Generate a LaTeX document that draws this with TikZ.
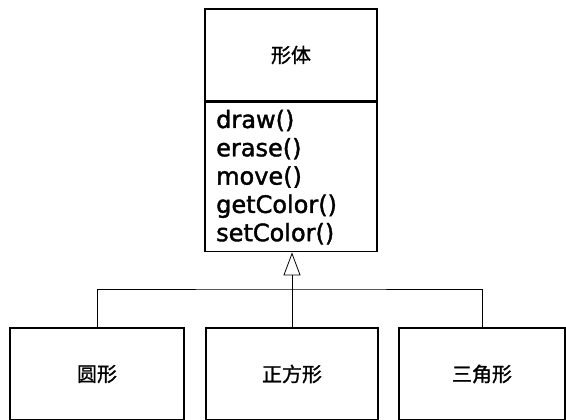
\documentclass[tikz,border=0pt]{standalone}
\usepackage{fontspec}
\usepackage{tikz}
\usetikzlibrary{arrows.meta}
\newfontfamily\cjk[FakeBold=1.2]{Noto Sans CJK SC}
\newfontfamily\opfont[FakeBold=1.6]{DejaVu Sans}

\tikzset{
	classbox/.style={draw=black, line width=1.6pt, fill=white, inner sep=0pt,
		font=\cjk\fontsize{20}{24}\selectfont},
	optext/.style={anchor=base west, inner sep=0pt, font=\opfont\fontsize{24}{28}\selectfont},
	link/.style={draw=black, line width=0.8pt}
}

\begin{document}
\begin{tikzpicture}[x=1pt, y=-1pt]
	\useasboundingbox (0,0) rectangle (566,420);
	
		% superclass
		\node[classbox, minimum width=172pt, minimum height=92pt] (shape) at (291,55) {形体};
		\node[classbox, anchor=north, minimum width=172pt, minimum height=149pt] (shapeops) at (shape.south) {};
		\foreach \m [count=\i] in {draw(), erase(), move(), getColor(), setColor()}
			\node[optext] (op\i) at (216,{128+28.3*(\i-1)}) {\m};
		
		% subclasses
		\node[classbox, minimum width=174pt, minimum height=92pt] (circle) at (97,374) {圆形};
		\node[classbox, minimum width=172pt, minimum height=92pt] (square) at (292,374) {正方形};
		\node[classbox, minimum width=166pt, minimum height=92pt] (triangle) at (482,374) {三角形};
		
		% inheritance
		\coordinate (bar) at (292,289);
		\draw[link] (circle.north) |- (bar) -| (triangle.north);
		\draw[link, -{Triangle[open, width=17pt, length=23pt, line width=0.8pt]}] (square.north) -- (square.north |- shapeops.south);
	\end{tikzpicture}
\end{document}
